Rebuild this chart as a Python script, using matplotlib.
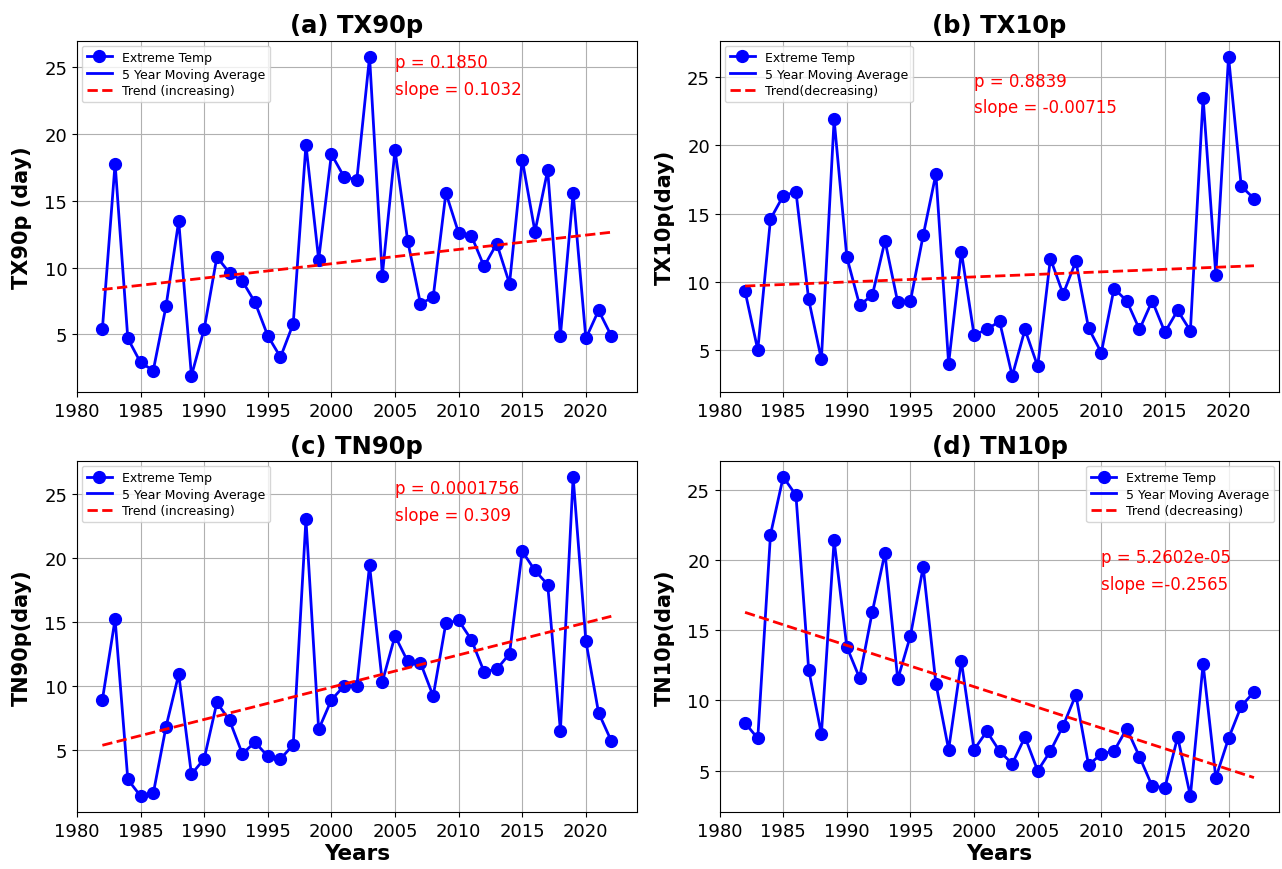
import matplotlib
matplotlib.use("Agg")
import matplotlib.pyplot as plt
import numpy as np

years = np.arange(1982, 2023)

tx90p = [5.4, 17.8, 4.7, 2.9, 2.3, 7.1, 13.5, 1.9, 5.4, 10.8, 9.6, 9.0, 7.4, 4.9, 3.3, 5.8,
         19.2, 10.6, 18.5, 16.8, 16.6, 25.8, 9.4, 18.8, 12.0, 7.3, 7.8, 15.6, 12.6, 12.4, 10.1,
         11.8, 8.8, 18.1, 12.7, 17.3, 4.9, 15.6, 4.7, 6.8, 4.9]
tx10p = [9.3, 5.0, 14.6, 16.3, 16.6, 8.7, 4.3, 21.9, 11.8, 8.3, 9.0, 13.0, 8.5, 8.6, 13.4, 17.9,
         4.0, 12.2, 6.1, 6.5, 7.1, 3.1, 6.5, 3.8, 11.7, 9.1, 11.5, 6.6, 4.8, 9.5, 8.6,
         6.5, 8.6, 6.3, 7.9, 6.4, 23.5, 10.5, 26.5, 17.0, 16.1]
tn90p = [8.9, 15.2, 2.7, 1.4, 1.6, 6.8, 10.9, 3.1, 4.3, 8.7, 7.3, 4.7, 5.6, 4.5, 4.3, 5.4,
         23.0, 6.6, 8.9, 10.0, 10.0, 19.4, 10.3, 13.9, 11.9, 11.8, 9.2, 14.9, 15.1, 13.6, 11.1,
         11.3, 12.5, 20.5, 19.0, 17.9, 6.5, 26.3, 13.5, 7.9, 5.7]
tn10p = [8.4, 7.3, 21.8, 25.9, 24.6, 12.2, 7.6, 21.4, 13.8, 11.6, 16.3, 20.5, 11.5, 14.6, 19.5, 11.2,
         6.5, 12.8, 6.5, 7.8, 6.4, 5.5, 7.4, 5.0, 6.4, 8.2, 10.4, 5.4, 6.2, 6.4, 8.0,
         6.0, 3.9, 3.8, 7.4, 3.2, 12.6, 4.5, 7.3, 9.6, 10.6]

titles = ["(a) TX90p", "(b) TX10p", "(c) TN90p", "(d) TN10p"]
ylabels = ["TX90p (day)", "TX10p(day)", "TN90p(day)", "TN10p(day)"]
trend_labels = ["Trend (increasing)", "Trend(decreasing)", "Trend (increasing)", "Trend (decreasing)"]
p_texts = ["p = 0.1850", "p = 0.8839", "p = 0.0001756", "p = 5.2602e-05"]
slope_texts = ["slope = 0.1032", "slope = -0.00715", "slope = 0.309", "slope =-0.2565"]
text_x = [2005, 2000, 2005, 2010]
text_y = [(25.4, 23.4), (24.7, 22.8), (25.4, 23.3), (20.2, 18.3)]
legend_loc = ["upper left", "upper left", "upper left", "upper right"]

series = [tx90p, tx10p, tn90p, tn10p]

fig, axes = plt.subplots(2, 2, figsize=(12.82, 8.7), dpi=100)
plt.subplots_adjust(left=0.060, right=0.998, top=0.952, bottom=0.0655, wspace=0.148, hspace=0.197)

for i, ax in enumerate(axes.flat):
    y = np.array(series[i])
    ax.plot(years, y, color='blue', marker='o', markersize=8.5, linewidth=2, label='Extreme Temp')
    # moving average is not visible in the original, only in the legend
    ax.plot([], [], color='blue', linewidth=2, label='5 Year Moving Average')
    k, b = np.polyfit(years, y, 1)
    ax.plot(years, k * years + b, color='red', linestyle='--', linewidth=2, label=trend_labels[i])
    ax.text(text_x[i], text_y[i][0], p_texts[i], color='red', fontsize=12, va='center')
    ax.text(text_x[i], text_y[i][1], slope_texts[i], color='red', fontsize=12, va='center')
    ax.set_title(titles[i], fontsize=17.5, fontweight='bold')
    ax.set_ylabel(ylabels[i], fontsize=15, fontweight='bold', labelpad=9)
    if i >= 2:
        ax.set_xlabel("Years", fontsize=15.5, fontweight='bold', labelpad=2)
    ax.set_xticks(np.arange(1980, 2025, 5))
    ax.tick_params(labelsize=13)
    ax.grid(True)
    ax.legend(loc=legend_loc[i], fontsize=9, borderaxespad=0.4, labelspacing=0.3)

plt.savefig("out.png", dpi=100)
